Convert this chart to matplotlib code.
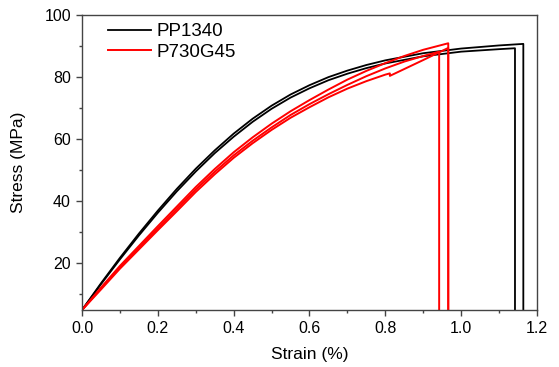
import matplotlib
matplotlib.use("Agg")
import matplotlib.pyplot as plt
from matplotlib.ticker import MultipleLocator, FormatStrFormatter

plt.rcParams['font.family'] = ['Liberation Sans', 'DejaVu Sans']

# Black series (PP1340)
b1_strain = [0, 0.05, 0.1, 0.15, 0.2, 0.25, 0.3, 0.35, 0.4, 0.45, 0.5, 0.55, 0.6, 0.65, 0.7, 0.75, 0.8, 0.9, 1.0, 1.1, 1.164, 1.164]
b1_stress = [5, 13.6, 21.8, 29.6, 37.0, 44.0, 50.5, 56.4, 61.8, 66.6, 70.8, 74.4, 77.4, 80.0, 82.1, 83.9, 85.4, 87.7, 89.2, 90.2, 90.7, 0]
b2_strain = [0, 0.05, 0.1, 0.15, 0.2, 0.25, 0.3, 0.35, 0.4, 0.45, 0.5, 0.55, 0.6, 0.65, 0.7, 0.75, 0.8, 0.9, 1.0, 1.1, 1.142, 1.142]
b2_stress = [5, 13.3, 21.3, 29.0, 36.3, 43.2, 49.6, 55.5, 60.8, 65.6, 69.8, 73.4, 76.4, 79.0, 81.1, 82.9, 84.4, 86.7, 88.2, 89.0, 89.3, 0]

# Red series (P730G45)
r1_strain = [0, 0.05, 0.1, 0.15, 0.2, 0.25, 0.3, 0.35, 0.4, 0.45, 0.5, 0.55, 0.6, 0.65, 0.7, 0.75, 0.8, 0.85, 0.9, 0.966, 0.966]
r1_stress = [5, 12.2, 19.2, 25.6, 32.0, 38.3, 44.6, 50.4, 55.8, 60.6, 65.0, 69.0, 72.6, 76.0, 79.2, 82.0, 84.5, 86.8, 88.8, 90.9, 0]
r2_strain = [0, 0.05, 0.1, 0.15, 0.2, 0.25, 0.3, 0.35, 0.4, 0.45, 0.5, 0.55, 0.6, 0.65, 0.7, 0.75, 0.8, 0.85, 0.9, 0.942, 0.942]
r2_stress = [5, 12.0, 18.8, 25.0, 31.3, 37.5, 43.8, 49.5, 54.8, 59.5, 63.8, 67.8, 71.3, 74.5, 77.5, 80.3, 82.8, 85.0, 86.8, 88.2, 0]
r3_strain = [0, 0.05, 0.1, 0.15, 0.2, 0.25, 0.3, 0.35, 0.4, 0.45, 0.5, 0.55, 0.6, 0.65, 0.7, 0.75, 0.8, 0.812, 0.812, 0.9, 0.966, 0.966]
r3_stress = [5, 11.6, 18.3, 24.5, 30.7, 36.8, 43.0, 48.7, 54.0, 58.7, 63.0, 66.9, 70.3, 73.5, 76.3, 78.7, 80.8, 81.2, 80.4, 85.5, 89.4, 0]

labels = ["PP1340", "P730G45"]

fig = plt.figure(figsize=(5.59, 3.67), dpi=100)
ax = fig.add_axes([0.1467, 0.1553, 0.8139, 0.8038])

ax.plot(b1_strain, b1_stress, color='black', lw=1.3, label=labels[0])
ax.plot(b2_strain, b2_stress, color='black', lw=1.3)
ax.plot(r1_strain, r1_stress, color='red', lw=1.4, label=labels[1])
ax.plot(r2_strain, r2_stress, color='red', lw=1.4)
ax.plot(r3_strain, r3_stress, color='red', lw=1.4)

ax.set_xlim(0, 1.2)
ax.set_ylim(5, 100)
ax.xaxis.set_major_locator(MultipleLocator(0.2))
ax.xaxis.set_minor_locator(MultipleLocator(0.1))
ax.yaxis.set_major_locator(MultipleLocator(20))
ax.yaxis.set_minor_locator(MultipleLocator(10))
ax.xaxis.set_major_formatter(FormatStrFormatter('%.1f'))

for s in ax.spines.values():
    s.set_color('#444444')
    s.set_linewidth(1.0)
ax.tick_params(which='major', direction='out', length=4, width=1, labelsize=11.5,
               colors='#444444', labelcolor='black', pad=4)
ax.tick_params(which='minor', direction='out', length=2.5, width=1, colors='#444444')
ax.tick_params(top=False, right=False, which='both')

ax.set_xlabel("Strain (%)", fontsize=12.5, labelpad=8)
ax.set_ylabel("Stress (MPa)", fontsize=12.5, labelpad=13)

leg = ax.legend(loc='upper left', bbox_to_anchor=(0.02, 1.03), frameon=False,
                fontsize=13.5, handlelength=2.3, handletextpad=0.3, labelspacing=0.2)

fig.savefig("out.png", dpi=100)
